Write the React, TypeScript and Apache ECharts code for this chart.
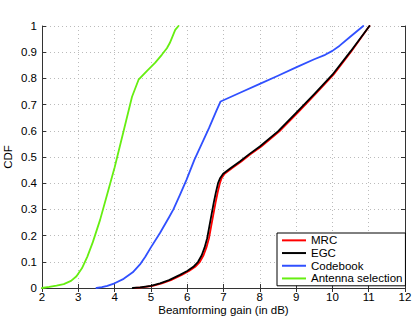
import React, { useEffect, useRef } from "react";
import * as echarts from "echarts";

const seriesNames = ["MRC", "EGC", "Codebook", "Antenna selection"];

const mrcX = [4.55, 4.75, 4.9, 5.05, 5.3, 5.55, 5.85, 6.05, 6.22, 6.35, 6.45, 6.53, 6.6, 6.66, 6.72, 6.78, 6.84, 6.9, 6.95, 7.03, 7.24, 7.49, 7.74, 8.04, 8.54, 9.04, 9.53, 10.03, 10.52, 11.02];
const mrcY = [0, 0.002, 0.005, 0.008, 0.018, 0.03, 0.05, 0.065, 0.081, 0.1, 0.125, 0.155, 0.19, 0.235, 0.28, 0.325, 0.365, 0.4, 0.42, 0.436, 0.458, 0.483, 0.51, 0.54, 0.598, 0.668, 0.74, 0.814, 0.903, 1.0];

const egcX = [4.5, 4.7, 4.85, 5.0, 5.25, 5.5, 5.8, 6.0, 6.17, 6.3, 6.4, 6.48, 6.55, 6.61, 6.67, 6.73, 6.79, 6.85, 6.91, 6.99, 7.2, 7.45, 7.7, 8.0, 8.5, 9.0, 9.5, 10.0, 10.5, 11.02];
const egcY = [0, 0.002, 0.005, 0.008, 0.018, 0.03, 0.05, 0.065, 0.081, 0.1, 0.125, 0.155, 0.19, 0.235, 0.28, 0.325, 0.365, 0.4, 0.42, 0.436, 0.458, 0.483, 0.51, 0.54, 0.598, 0.668, 0.74, 0.814, 0.903, 1.0];

const codebookX = [3.5, 3.65, 3.8, 4.0, 4.25, 4.5, 4.7, 4.85, 5.0, 5.25, 5.5, 5.62, 5.8, 5.98, 6.2, 6.4, 6.6, 6.8, 6.92, 7.5, 8.0, 8.5, 9.0, 9.5, 9.8, 10.0, 10.2, 10.5, 10.85];
const codebookY = [0, 0.003, 0.008, 0.018, 0.035, 0.06, 0.09, 0.12, 0.155, 0.21, 0.27, 0.3, 0.355, 0.413, 0.49, 0.55, 0.61, 0.675, 0.712, 0.748, 0.779, 0.81, 0.842, 0.873, 0.89, 0.905, 0.925, 0.96, 1.0];

const antennaX = [2.0, 2.2, 2.4, 2.6, 2.8, 2.95, 3.1, 3.25, 3.4, 3.6, 3.8, 4.0, 4.25, 4.48, 4.66, 4.9, 5.12, 5.3, 5.44, 5.52, 5.58, 5.67, 5.76];
const antennaY = [0, 0.004, 0.009, 0.015, 0.027, 0.045, 0.075, 0.12, 0.175, 0.26, 0.36, 0.46, 0.6, 0.73, 0.795, 0.83, 0.86, 0.89, 0.915, 0.935, 0.955, 0.985, 1.0];

const seriesColors = ["#ff0000", "#000000", "#3050ff", "#66ee11"];

const zip = (xs: number[], ys: number[]) => xs.map((x, i) => [x, ys[i]]);

export default function App() {
  const ref = useRef<HTMLDivElement>(null);
  useEffect(() => {
    document.body.style.margin = "0";
    const chart = echarts.init(ref.current!, undefined, { renderer: "svg" });
    const font = "Liberation Sans, Arial, Helvetica, sans-serif";
    const datasets = [zip(mrcX, mrcY), zip(egcX, egcY), zip(codebookX, codebookY), zip(antennaX, antennaY)];
    const boxAxisLine = { show: true, lineStyle: { color: "#333", width: 1 } };
    const tick = { show: true, inside: true, length: 4, lineStyle: { color: "#333" } };
    chart.setOption({
      animation: false,
      backgroundColor: "#fff",
      grid: { left: 42, right: 10, top: 26, bottom: 31, containLabel: false, outerBoundsMode: "none" },
      legend: {
        orient: "vertical",
        left: 277,
        top: 233,
        itemGap: 0,
        itemWidth: 24,
        itemHeight: 2,
        itemTextGap: 3,
        icon: "path://M0,0H24V2H0Z",
        padding: [1, 3, 1, 5],
        borderColor: "#000",
        borderWidth: 1,
        borderRadius: 0,
        backgroundColor: "#fff",
        selectedMode: false,
        data: seriesNames,
        textStyle: { fontFamily: font, fontSize: 11.5, lineHeight: 12.7, color: "#000" },
      },
      xAxis: [
        {
          type: "value",
          min: 2,
          max: 12,
          interval: 1,
          position: "bottom",
          name: "Beamforming gain (in dB)",
          nameLocation: "middle",
          nameGap: 16,
          nameMoveOverlap: false,
          nameTextStyle: { fontFamily: font, fontSize: 11.5, color: "#000" },
          axisLine: boxAxisLine,
          axisTick: tick,
          axisLabel: { fontFamily: font, fontSize: 11.5, color: "#000", margin: 3 },
          splitLine: { show: true, lineStyle: { color: "#bbb", type: [1, 3], width: 1 } },
        },
        {
          type: "value",
          min: 2,
          max: 12,
          interval: 1,
          position: "top",
          axisLine: boxAxisLine,
          axisTick: tick,
          axisLabel: { show: false },
          splitLine: { show: false },
        },
      ],
      yAxis: [
        {
          type: "value",
          min: 0,
          max: 1,
          interval: 0.1,
          position: "left",
          name: "CDF",
          nameLocation: "middle",
          nameGap: 28,
          nameMoveOverlap: false,
          nameTextStyle: { fontFamily: font, fontSize: 11.5, color: "#000" },
          axisLine: boxAxisLine,
          axisTick: tick,
          axisLabel: { fontFamily: font, fontSize: 11.5, color: "#000", margin: 5 },
          splitLine: { show: true, lineStyle: { color: "#bbb", type: [1, 3], width: 1 } },
        },
        {
          type: "value",
          min: 0,
          max: 1,
          interval: 0.1,
          position: "right",
          axisLine: boxAxisLine,
          axisTick: tick,
          axisLabel: { show: false },
          splitLine: { show: false },
        },
      ],
      series: seriesNames.map((name, i) => ({
        name,
        type: "line",
        data: datasets[i],
        xAxisIndex: 0,
        yAxisIndex: 0,
        showSymbol: false,
        symbol: "none",
        smooth: false,
        color: seriesColors[i],
        lineStyle: { color: seriesColors[i], width: 1.8, join: "round", cap: "round" },
        emphasis: { disabled: true },
        silent: true,
      })),
    });
    return () => chart.dispose();
  }, []);
  return <div ref={ref} style={{ width: 415, height: 319 }} />;
}
